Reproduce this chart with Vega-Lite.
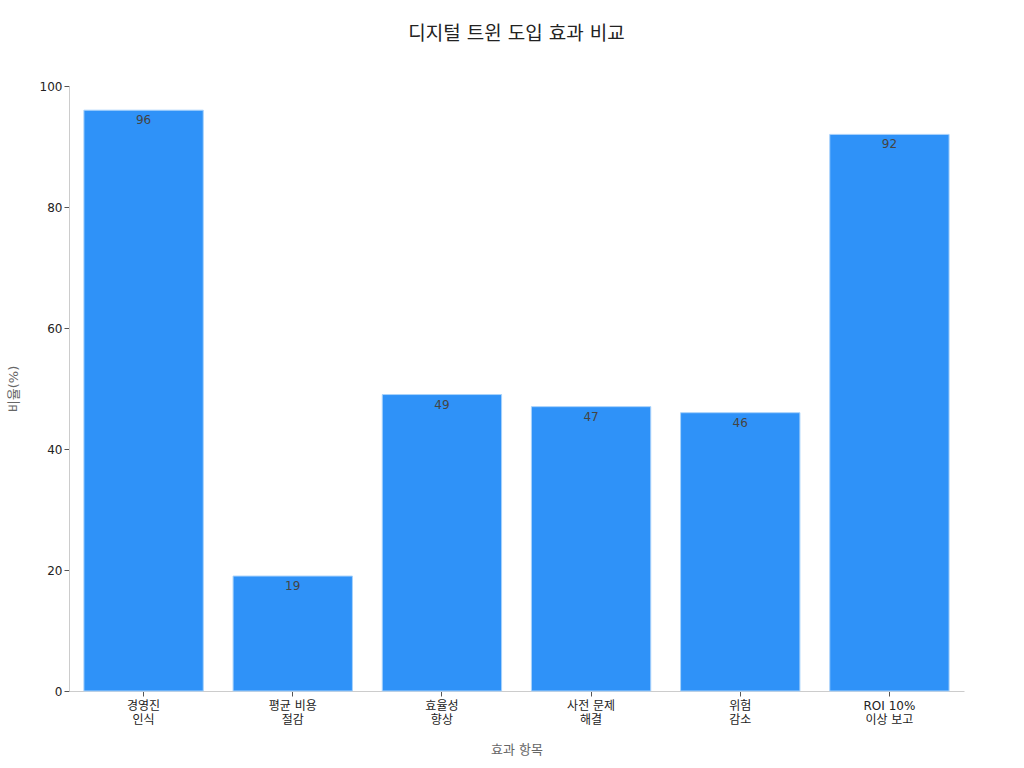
{
  "$schema": "https://vega.github.io/schema/vega-lite/v6.json",
  "autosize": {"type": "none"},
  "padding": {"left": 69, "top": 86, "right": 60, "bottom": 77},
  "width": 895,
  "height": 605,
  "title": {
    "text": "디지털 트윈 도입 효과 비교",
    "fontSize": 19,
    "fontWeight": "normal",
    "color": "#222222",
    "anchor": "middle",
    "offset": 36,
    "font": "DejaVu Sans, Noto Sans CJK KR"
  },
  "config": {
    "view": {"stroke": null},
    "font": "DejaVu Sans, Noto Sans CJK KR"
  },
  "data": {
    "values": [
      {"item": "경영진\n인식", "value": 96},
      {"item": "평균 비용\n절감", "value": 19},
      {"item": "효율성\n향상", "value": 49},
      {"item": "사전 문제\n해결", "value": 47},
      {"item": "위험\n감소", "value": 46},
      {"item": "ROI 10%\n이상 보고", "value": 92}
    ]
  },
  "encoding": {
    "x": {
      "field": "item",
      "type": "nominal",
      "sort": null,
      "title": "효과 항목",
      "scale": {"paddingInner": 0.2, "paddingOuter": 0.1},
      "axis": {
        "labelAngle": 0,
        "labelExpr": "split(datum.label, '\\n')",
        "labelFontSize": 12,
        "labelColor": "#222222",
        "labelPadding": 4,
        "domainColor": "#cccccc",
        "tickColor": "#555555",
        "tickSize": 5,
        "titleFontSize": 13,
        "titleFontWeight": "normal",
        "titleColor": "#666666",
        "titlePadding": 18
      }
    },
    "y": {
      "field": "value",
      "type": "quantitative",
      "title": "비율(%)",
      "scale": {"domain": [0, 100]},
      "axis": {
        "values": [0, 20, 40, 60, 80, 100],
        "grid": false,
        "labelFontSize": 12,
        "labelColor": "#222222",
        "domainColor": "#cccccc",
        "tickColor": "#555555",
        "tickSize": 5,
        "titleFontSize": 13,
        "titleFontWeight": "normal",
        "titleColor": "#666666",
        "titlePadding": 19
      }
    }
  },
  "layer": [
    {
      "mark": {"type": "bar", "color": "#2f92f8", "stroke": "#a8d2fb", "strokeWidth": 1}
    },
    {
      "mark": {"type": "text", "baseline": "top", "dy": 5, "fontSize": 12, "color": "#444444"},
      "encoding": {"text": {"field": "value", "type": "quantitative"}}
    }
  ]
}
